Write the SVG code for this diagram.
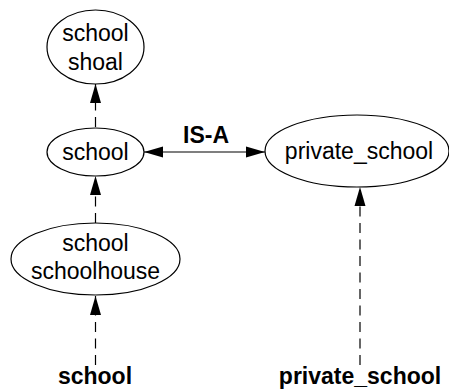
<svg xmlns="http://www.w3.org/2000/svg" width="449" height="390" viewBox="0 0 449 390">
  <style>
    .node ellipse { fill: none; stroke: #000; stroke-width: 1.2; }
    .lbl { font-family: "Liberation Sans", Arial, Helvetica, sans-serif; font-size: 23px; fill: #000; text-anchor: middle; }
    .bold { font-weight: bold; }
    .edge { fill: none; stroke: #000; stroke-width: 1.2; }
    .dash { stroke-dasharray: 10 6.5; }
  </style>
  <defs>
    <marker id="head" markerUnits="userSpaceOnUse" markerWidth="20" markerHeight="12" refX="19" refY="6" orient="auto-start-reverse" viewBox="0 0 20 12">
      <path d="M0,0.5 L19,6 L0,11.5 Z" fill="#000"/>
    </marker>
  </defs>

  <rect width="449" height="390" fill="#fff"/>

  <g id="connectors">
    <path class="edge dash" d="M95.5,365 L95.5,296" marker-end="url(#head)"/>
    <path class="edge dash" d="M95.5,223 L95.5,176" marker-end="url(#head)"/>
    <path class="edge dash" d="M95.5,127 L95.5,84" marker-end="url(#head)"/>
    <path class="edge dash" d="M360,365 L360,187" marker-end="url(#head)"/>
    <path class="edge" d="M144,152 L265,152" marker-start="url(#head)" marker-end="url(#head)"/>
    <text class="lbl bold" x="206" y="143">IS-A</text>
  </g>

  <g id="school_shoal" class="node">
    <ellipse cx="95.5" cy="47" rx="48.5" ry="37"/>
    <text class="lbl" x="95.5" y="41">school</text>
    <text class="lbl" x="95.5" y="70">shoal</text>
  </g>

  <g id="school" class="node">
    <ellipse cx="95.5" cy="152" rx="48.5" ry="24"/>
    <text class="lbl" x="95.5" y="160">school</text>
  </g>

  <g id="school_schoolhouse" class="node">
    <ellipse cx="95.5" cy="259" rx="84.5" ry="36"/>
    <text class="lbl" x="95.5" y="251">school</text>
    <text class="lbl" x="95.5" y="279">schoolhouse</text>
  </g>

  <g id="private_school" class="node">
    <ellipse cx="357" cy="151" rx="92" ry="36"/>
    <text class="lbl" x="359" y="159">private_school</text>
  </g>

  <g id="word_school">
    <text class="lbl bold" x="95" y="384">school</text>
  </g>

  <g id="word_private_school">
    <text class="lbl bold" x="360" y="384">private_school</text>
  </g>
</svg>
